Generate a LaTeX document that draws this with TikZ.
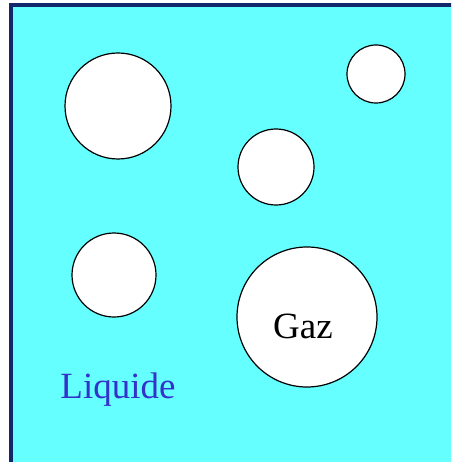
\documentclass[tikz,border=0pt]{standalone}
\usepackage{fontspec}
\setmainfont{Liberation Serif}
\usepackage{tikz}
\definecolor{Liquid}{HTML}{66FFFF}
\definecolor{Navy}{HTML}{13286A}
\definecolor{TextBlue}{HTML}{3333CC}
\tikzset{bubble/.style={circle,draw=black,fill=white,line width=1.2pt,inner sep=0pt},bigtext/.style={font=\fontsize{37}{40}\selectfont}}

\begin{document}
\begin{tikzpicture}[x=1pt,y=-1pt]
        \useasboundingbox (0,0) rectangle (451,462);
        \clip (0,0) rectangle (451,462);
        \draw[line width=3.5pt,draw=Navy,fill=Liquid](11,5) rectangle (470,480);
        \node[bubble,minimum size=106pt] (b1) at (118,106){};
        \node[bubble,minimum size=58pt] (b2) at (376,74){};
        \node[bubble,minimum size=76pt] (b3) at (276,167){};
        \node[bubble,minimum size=84pt] (b4) at (114,275){};
        \node[bubble,minimum size=140pt] (gaz) at (307,317){};
        \node[bigtext] (gaztext) at ([xshift=-4pt,yshift=-9pt]gaz.center){Gaz};
        \node[bigtext,text=TextBlue] (liq) at (118,390){Liquide};
      \end{tikzpicture}
\end{document}
